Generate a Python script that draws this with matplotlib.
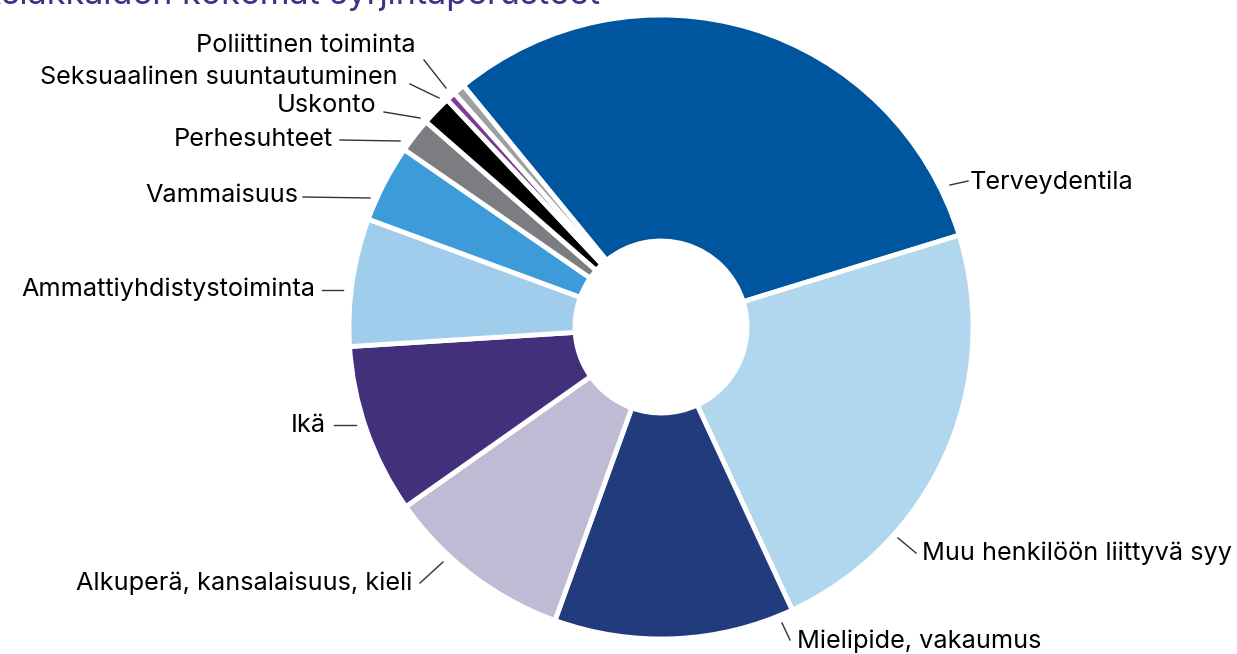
import matplotlib
matplotlib.use("Agg")
import matplotlib.pyplot as plt

plt.rcParams['font.family'] = ['Inter', 'DejaVu Sans']

# slices, clockwise from the top-left
categories = ['Terveydentila', 'Muu henkilöön liittyvä syy', 'Mielipide, vakaumus',
              'Alkuperä, kansalaisuus, kieli', 'Ikä', 'Ammattiyhdistystoiminta',
              'Vammaisuus', 'Perhesuhteet', 'Uskonto', 'Seksuaalinen suuntautuminen',
              'Poliittinen toiminta']
shares = [31.1, 22.8, 12.4, 9.7, 8.75, 6.6, 4.0, 1.8, 1.55, 0.5, 0.6]
colors = ['#00559f', '#b0d7ee', '#213b7c', '#bfbbd4', '#42307d', '#a0cdeb',
          '#3d9bd9', '#7b7d81', '#000000', '#7d3c91', '#9c9fa3']

title = 'Asiakkaiden kokemat syrjintäperusteet'

# label placement in pixel coords (x, y from top), alignment, leader line
label_pos = [(970, 182, 'left'), (922, 553, 'left'), (797, 641, 'left'),
             (412, 583, 'right'), (326, 425, 'right'), (315, 289, 'right'),
             (298, 196, 'right'), (333, 139, 'right'), (376, 106, 'right'),
             (398, 77, 'right'), (416, 46, 'right')]
leaders = [((950, 185), (968, 181)), ((898, 538), (916, 553)), ((782, 623), (790, 640)),
           ((443, 562), (420, 583)), ((356, 425), (334, 425)), ((343, 290), (322, 290)),
           ((370, 198), (303, 197)), ((400, 141), (340, 140)), ((420, 118), (384, 112)),
           ((439, 98), (410, 84)), ((446, 88), (424, 60))]

W, H = 1237, 654
fig = plt.figure(figsize=(W / 100, H / 100), dpi=100)
ax = fig.add_axes([0, 0, 1, 1])

R = 312
wedges, _ = ax.pie(shares, colors=colors, startangle=129.3, counterclock=False,
                   center=(661, H - 327), radius=R, frame=True,
                   wedgeprops=dict(width=R - 86, edgecolor='white', linewidth=3.5))
ax.set_xlim(0, W)
ax.set_ylim(0, H)
ax.set_aspect('equal')
ax.axis('off')

for name, (x, y, ha), (p0, p1) in zip(categories, label_pos, leaders):
    ax.plot([p0[0], p1[0]], [H - p0[1], H - p1[1]], color='#333333', lw=1)
    ax.text(x, H - y, name, ha=ha, va='center', fontsize=18.2, color='black')

fig.text(600 / W, 1 - 4 / H, title, ha='right', va='baseline', fontsize=24.5,
         color='#3f3088')

fig.savefig('out.png', dpi=100)
